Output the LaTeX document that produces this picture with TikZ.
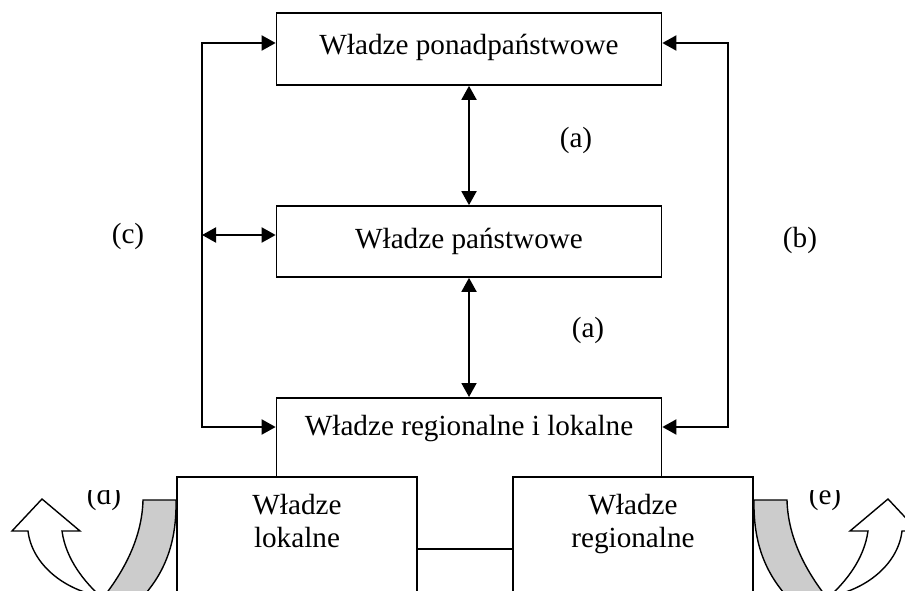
\documentclass[tikz,border=0pt]{standalone}
\usepackage{fontspec}
\setmainfont{Liberation Serif}
\usetikzlibrary{arrows.meta}
\tikzset{
  box/.style={draw, line width=1.7pt, fill=white, inner sep=0pt, font=\fontsize{29.2}{33}\selectfont},
  txt/.style={inner sep=0pt, font=\fontsize{29.2}{33}\selectfont, align=center},
  conn/.style={line width=1.9pt},
  arr/.style={conn, -{Triangle[length=14pt,width=15pt]}},
  darr/.style={conn, {Triangle[length=14pt,width=15pt]}-{Triangle[length=14pt,width=15pt]}},
  uarrow/.style={line width=1.4pt, fill=white, line join=miter},
  ushade/.style={line width=1.4pt, fill=gray!40, line join=miter}
}
\begin{document}
\begin{tikzpicture}[x=1pt,y=-1pt]
\useasboundingbox (0,0) rectangle (905,591);
\clip (0,0) rectangle (905,591);
% upper boxes
\node[box, minimum width=385, minimum height=72, text height=17pt, text depth=6pt] (top) at (469,49) {Władze ponadpaństwowe};
\node[box, minimum width=385, minimum height=71] (mid) at (469,241.5) {Władze państwowe};
\node[box, minimum width=385, text height=38pt, text depth=185pt, anchor=north] (reg) at (469,397) {Władze regionalne i lokalne};
% lower boxes
\node[box, minimum width=240, minimum height=144, anchor=north] (loc) at (297,476) {};
\node[box, minimum width=240, minimum height=144, anchor=north] (rgn) at (633,476) {};
\node[txt] (loct) at (297,524) {\strut Władze\\\strut lokalne};
\node[txt] (rgnt) at (633,524) {\strut Władze\\\strut regionalne};
\draw[conn] (loc.east) -- (rgn.west);
% vertical double arrows
\draw[darr] (top.south) -- (mid.north);
\draw[darr] (mid.south) -- (reg.north);
% left loop
\coordinate (L1) at (202,43);
\coordinate (L2) at (202,235);
\coordinate (L3) at (202,427);
\draw[conn] (L1) -- (L3);
\draw[arr] ([xshift=-0.95pt]L1) -- (L1 -| top.west);
\draw[darr] (L2) -- (L2 -| mid.west);
\draw[arr] ([xshift=-0.95pt]L3) -- (L3 -| reg.west);
% right loop
\coordinate (R1) at (728,43);
\coordinate (R3) at (728,427);
\draw[conn] (R1) -- (R3);
\draw[arr] ([xshift=0.95pt]R1) -- (R1 -| top.east);
\draw[arr] ([xshift=0.95pt]R3) -- (R3 -| reg.east);
% labels
\node[txt] (a1) at (576,140) {(a)};
\node[txt] (a2) at (588,330) {(a)};
\node[txt] (c) at (128,236) {(c)};
\node[txt] (b) at (800,240) {(b)};
\begin{scope}
\clip (60,490) rectangle (860,540);
\node[txt] (d) at (104,497) {(d)};
\node[txt] (e) at (825,497) {(e)};
\end{scope}
% curved arrows
\draw[uarrow] (100,596) .. controls (65,590) and (32,565) .. (28,531) -- (12,531) -- (42,499) -- (80,531) -- (62,531) .. controls (66,560) and (85,582) .. (100,596) -- cycle;
\draw[ushade] (143,500) -- (176,500) .. controls (177,550) and (160,580) .. (136,604) -- (98,604) .. controls (122,575) and (142,540) .. (143,500) -- cycle;
\begin{scope}[xshift=930pt, xscale=-1]
\draw[uarrow] (100,596) .. controls (65,590) and (32,565) .. (28,531) -- (12,531) -- (42,499) -- (80,531) -- (62,531) .. controls (66,560) and (85,582) .. (100,596) -- cycle;
\draw[ushade] (143,500) -- (176,500) .. controls (177,550) and (160,580) .. (136,604) -- (98,604) .. controls (122,575) and (142,540) .. (143,500) -- cycle;
\end{scope}
\end{tikzpicture}
\end{document}
